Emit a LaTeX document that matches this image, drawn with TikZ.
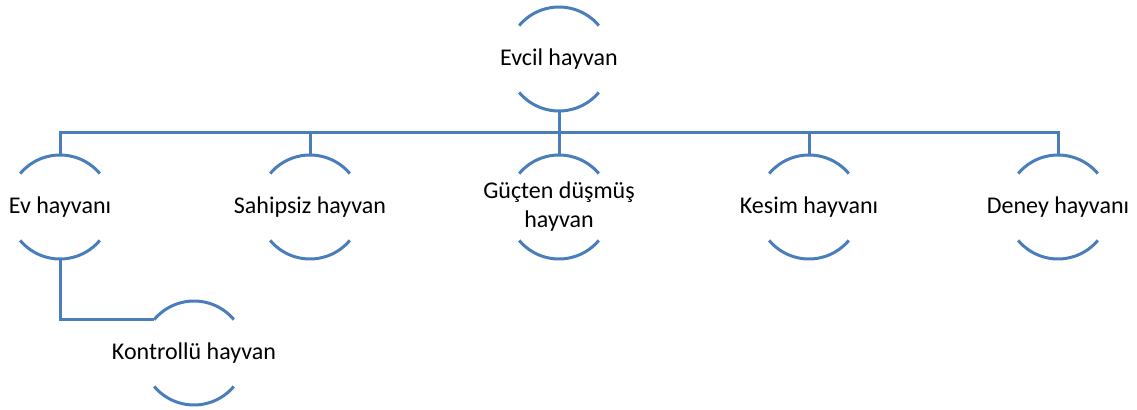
\documentclass[tikz,border=0pt]{standalone}
\usepackage{fontspec}
\setmainfont{Carlito}
\usepackage{tikz}
\definecolor{officeblue}{RGB}{74,126,187}

\begin{document}
\begin{tikzpicture}[x=0.5pt,y=0.5pt,semithick]
\tikzstyle{hollow node}=[circle,inner sep=0,outer sep=0,minimum size=52pt]
\tikzstyle{label node}=[align=center,inner sep=0,font=\fontsize{12}{14.5}\selectfont]
\tikzstyle{arc line}=[draw=officeblue,line width=1.5pt]

\useasboundingbox (0,0) rectangle (1137,-410);

      \node[hollow node] (evcil) at (559,-59) {};
      \node[hollow node] (ev) at (60,-207) {};
      \node[hollow node] (sahipsiz) at (310,-207) {};
      \node[hollow node] (guc) at (559,-207) {};
      \node[hollow node] (kesim) at (809,-207) {};
      \node[hollow node] (deney) at (1058,-207) {};
      \node[hollow node] (kontrol) at (194,-353) {};
      \coordinate (bus) at (559,-133);

      \node[label node] (evcil-t) at (evcil) {Evcil hayvan};
      \node[label node] (ev-t) at (ev) {Ev hayvanı};
      \node[label node] (sahipsiz-t) at (sahipsiz) {Sahipsiz hayvan};
      \node[label node] (guc-t) at (guc) {Güçten düşmüş\\hayvan};
      \node[label node] (kesim-t) at (kesim) {Kesim hayvanı};
      \node[label node] (deney-t) at (deney) {Deney hayvanı};
      \node[label node] (kontrol-t) at (kontrol) {Kontrollü hayvan};

% top and bottom arcs of each circle
\foreach \n in {evcil,ev,sahipsiz,guc,kesim,deney,kontrol}
  \draw[arc line] (\n.40) arc[start angle=40,end angle=140,radius=26pt]
                  (\n.220) arc[start angle=220,end angle=320,radius=26pt];

% tree lines
\draw[arc line] (evcil.south) -- (bus);
\foreach \c in {ev,sahipsiz,guc,kesim,deney}
  \draw[arc line] (bus) -| (\c.north);
\draw[arc line] (ev.south) |- (kontrol.140);
\end{tikzpicture}
\end{document}
